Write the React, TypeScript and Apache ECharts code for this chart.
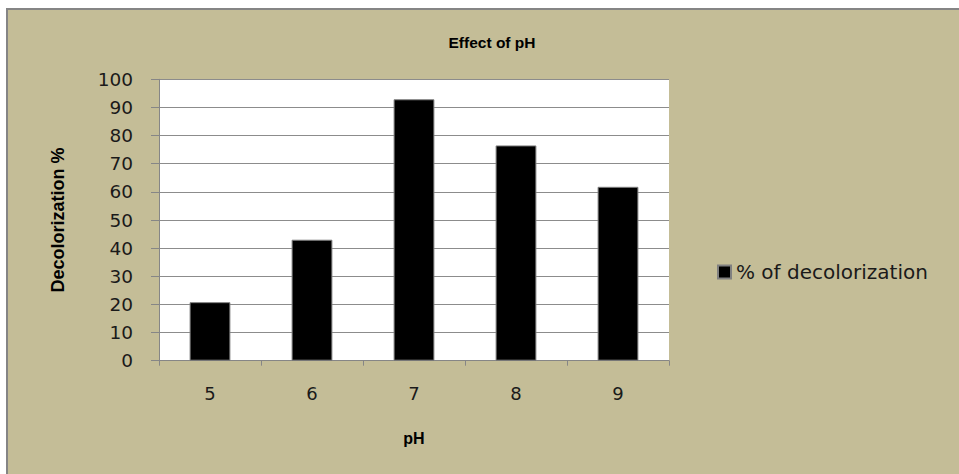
import React, { useEffect, useRef } from "react";
import * as echarts from "echarts";

const categories = ["5", "6", "7", "8", "9"];
const decolorization = [20.8, 43, 92.9, 76.5, 61.8];
const seriesName = "% of decolorization";
const titleText = "Effect of pH";
const xName = "pH";
const yName = "Decolorization %";

export default function App() {
  const ref = useRef<HTMLDivElement>(null);
  useEffect(() => {
    if (!ref.current) return;
    const chart = echarts.init(ref.current, undefined, { renderer: "svg" });
    const tickFont = "'DejaVu Sans', Verdana, sans-serif";
    const boldFont = "'Liberation Sans', Arial, sans-serif";
    chart.setOption({
      animation: false,
      backgroundColor: "#C4BD97",
      graphic: [
        { type: "rect", shape: { x: 0, y: 0, width: 959, height: 8 }, style: { fill: "#ffffff" }, silent: true },
        { type: "rect", shape: { x: 0, y: 0, width: 6, height: 474 }, style: { fill: "#ffffff" }, silent: true },
        { type: "rect", shape: { x: 6, y: 8, width: 953, height: 2 }, style: { fill: "#858585" }, silent: true },
        { type: "rect", shape: { x: 6, y: 8, width: 2, height: 466 }, style: { fill: "#858585" }, silent: true },
      ],
      title: {
        text: titleText,
        left: 487,
        top: 29,
        textAlign: "center",
        textStyle: { fontFamily: boldFont, fontWeight: "bold", fontSize: 15.5, color: "#000" },
      },
      legend: {
        orient: "vertical",
        left: 712,
        top: 257,
        itemWidth: 13,
        itemHeight: 13,
        icon: "rect",
        itemGap: 6,
        data: [seriesName],
        textStyle: { fontFamily: tickFont, fontSize: 20, color: "#1a1a1a" },
      },
      grid: {
        left: 159,
        top: 79.3,
        right: 290,
        bottom: 113.3,
        show: true,
        backgroundColor: "#ffffff",
        borderWidth: 0,
      },
      xAxis: {
        type: "category",
        data: categories,
        name: xName,
        nameLocation: "middle",
        nameGap: 70,
        nameTextStyle: { fontFamily: boldFont, fontWeight: "bold", fontSize: 16, color: "#000" },
        axisLine: { show: true, lineStyle: { color: "#868686", width: 1 } },
        axisTick: { show: true, length: 5, lineStyle: { color: "#868686" } },
        axisLabel: { margin: 24, fontFamily: tickFont, fontSize: 18, color: "#1a1a1a" },
        splitLine: { show: false },
      },
      yAxis: {
        type: "value",
        min: 0,
        max: 100,
        interval: 10,
        name: yName,
        nameLocation: "middle",
        nameGap: 92,
        nameTextStyle: { fontFamily: boldFont, fontWeight: "bold", fontSize: 18, color: "#000" },
        axisLine: { show: true, lineStyle: { color: "#868686", width: 1 } },
        axisTick: { show: true, length: 8, lineStyle: { color: "#868686" } },
        axisLabel: { margin: 26, fontFamily: tickFont, fontSize: 18.5, color: "#1a1a1a" },
        splitLine: { show: true, lineStyle: { color: "#8c8c8c", width: 1 } },
      },
      series: [
        {
          name: seriesName,
          type: "bar",
          data: decolorization,
          barWidth: "40%",
          itemStyle: { color: "#000000", borderColor: "#808080", borderWidth: 1 },
        },
      ],
    });
    return () => chart.dispose();
  }, []);
  return (
    <div
      ref={ref}
      style={{ position: "fixed", left: 0, top: 0, width: 959, height: 474 }}
    />
  );
}
